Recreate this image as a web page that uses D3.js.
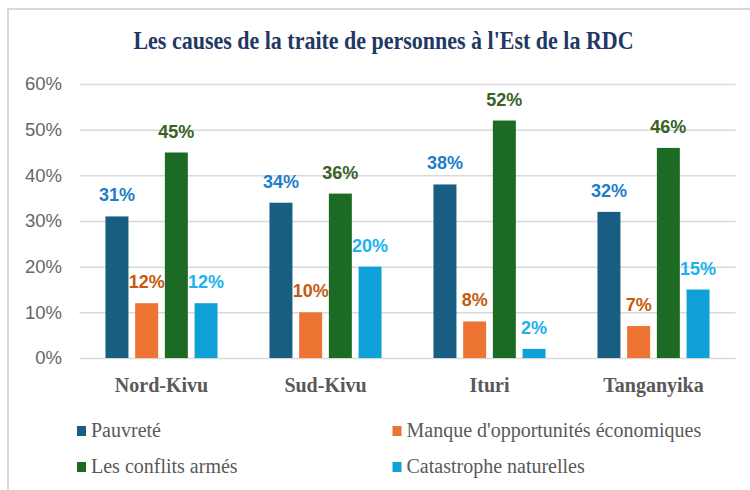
<!DOCTYPE html>
<html>
<head>
<meta charset="utf-8">
<script src="https://cdn.jsdelivr.net/npm/d3@7"></script>
<style>
  body { margin: 0; background: #fff; }
</style>
</head>
<body>
<svg id="chart"></svg>
<script>
const categories = ['Nord-Kivu', 'Sud-Kivu', 'Ituri', 'Tanganyika'];
const seriesNames = ['Pauvreté', "Manque d'opportunités économiques", 'Les conflits armés', 'Catastrophe naturelles'];
const pauvrete = [31, 34, 38, 32];
const manque = [12, 10, 8, 7];
const conflits = [45, 36, 52, 46];
const catastrophe = [12, 20, 2, 15];
const yTicks = [0, 10, 20, 30, 40, 50, 60];

const seriesValues = [pauvrete, manque, conflits, catastrophe];
const barColors = ['#175e82', '#ed7433', '#1b6b25', '#10a0d8'];
const labelColors = ['#1f7dc9', '#c55a11', '#386226', '#1db2ee'];

const W = 750, H = 490;
const plot = { left: 79.5, right: 735.5, top: 84, bottom: 358 };

const svg = d3.select('#chart')
  .attr('width', W)
  .attr('height', H);

// chart frame
svg.append('rect')
  .attr('x', 8).attr('y', 9)
  .attr('width', 800).attr('height', 600)
  .attr('fill', '#fff')
  .attr('stroke', '#d9d9d9')
  .attr('stroke-width', 2);

const x0 = d3.scaleBand()
  .domain(categories)
  .range([plot.left, plot.right])
  .padding(0);

const x1 = d3.scaleBand()
  .domain(seriesNames)
  .range([0, x0.bandwidth()])
  .paddingInner(0.226)
  .paddingOuter(0.874);

const y = d3.scaleLinear()
  .domain([0, 60])
  .range([plot.bottom, plot.top]);

// y axis + gridlines
const yAxis = svg.append('g')
  .attr('transform', `translate(${plot.left},0)`)
  .call(d3.axisLeft(y)
    .tickValues(yTicks)
    .tickFormat(d => d + '%')
    .tickSize(-(plot.right - plot.left))
    .tickPadding(17.5));
yAxis.select('.domain').remove();
yAxis.selectAll('line')
  .attr('stroke', '#d9d9d9')
  .attr('stroke-width', 1.5);
yAxis.selectAll('text')
  .attr('fill', '#666')
  .style('font-family', '"Liberation Sans", Arial, sans-serif')
  .style('font-size', '18.5px');

// category axis
const xAxis = svg.append('g')
  .attr('transform', `translate(0,${plot.bottom})`)
  .call(d3.axisBottom(x0).tickSize(0).tickPadding(19.8));
xAxis.select('.domain').remove();
xAxis.selectAll('text')
  .attr('fill', '#595959')
  .style('font-family', '"Liberation Serif", "Times New Roman", serif')
  .style('font-weight', 'bold')
  .style('font-size', '20px');

const rows = [];
categories.forEach((c, ci) => {
  seriesNames.forEach((s, si) => {
    rows.push({ cat: c, key: s, idx: si, value: seriesValues[si][ci] });
  });
});

svg.append('g')
  .selectAll('rect')
  .data(rows)
  .enter().append('rect')
  .attr('x', d => x0(d.cat) + x1(d.key))
  .attr('y', d => y(d.value))
  .attr('width', x1.bandwidth())
  .attr('height', d => y(0) - y(d.value))
  .attr('fill', d => barColors[d.idx]);

svg.append('g')
  .selectAll('text')
  .data(rows)
  .enter().append('text')
  .attr('x', d => x0(d.cat) + x1(d.key) + x1.bandwidth() / 2)
  .attr('y', d => y(d.value) - 15)
  .attr('text-anchor', 'middle')
  .attr('fill', d => labelColors[d.idx])
  .style('font-family', '"Liberation Sans", Arial, sans-serif')
  .style('font-weight', 'bold')
  .style('font-size', '18px')
  .text(d => d.value + '%');

// title
svg.append('text')
  .attr('transform', 'translate(383.5,49) scale(0.88,1)')
  .attr('text-anchor', 'middle')
  .attr('fill', '#1f3864')
  .style('font-family', '"Liberation Serif", "Times New Roman", serif')
  .style('font-weight', 'bold')
  .style('font-size', '25px')
  .text('Les causes de la traite de personnes à l\'Est de la RDC');

// legend
const legendPos = [[77, 437], [392.5, 437], [77, 473], [392.5, 473]];
const legend = svg.append('g')
  .selectAll('g')
  .data(seriesNames)
  .enter().append('g')
  .attr('transform', (d, i) => `translate(${legendPos[i][0]},${legendPos[i][1]})`);

legend.append('rect')
  .attr('x', 0)
  .attr('y', -11)
  .attr('width', 9)
  .attr('height', 10)
  .attr('fill', (d, i) => barColors[i]);

legend.append('text')
  .attr('x', 14)
  .attr('y', 0)
  .attr('fill', '#595959')
  .style('font-family', '"Liberation Serif", "Times New Roman", serif')
  .style('font-size', '20px')
  .text(d => d);
</script>
</body>
</html>
